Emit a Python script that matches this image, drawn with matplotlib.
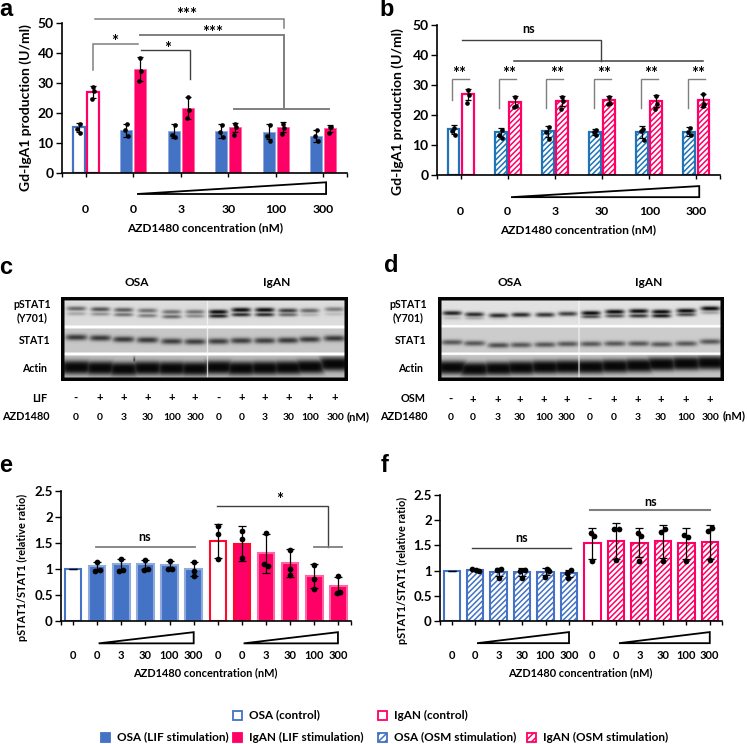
import numpy as np
import matplotlib
matplotlib.use('Agg')
import matplotlib.pyplot as plt
from matplotlib.patches import Rectangle, Polygon

W, H = 747, 744
plt.rcParams['font.family'] = ['Lato', 'DejaVu Sans']
plt.rcParams['font.weight'] = 'bold'
plt.rcParams['hatch.linewidth'] = 1.1

BLUE = '#4472C4'
BLUE2 = '#1F74B8'
PINK = '#FF0066'
RED = '#FF0A28'
GREY = '#7F7F7F'
DARK = '#404040'

conc = ['0', '0', '3', '30', '100', '300']
conc2 = conc + conc

# panel a
a_osa = [15.2, 14.3, 14.0, 14.0, 13.8, 12.3]
a_iga = [27.0, 34.7, 21.7, 15.3, 15.4, 14.9]
a_osa_sd = [1.4, 2.2, 2.2, 2.2, 2.5, 2.1]
a_iga_sd = [2.0, 4.0, 3.8, 1.5, 1.6, 1.2]
a_osa_pts = [[16.2, 14.6, 13.3], [16.5, 14.2, 12.5], [16, 12.6, 12], [16, 13.6, 12],
             [16, 12.2, 10.8], [14.2, 12.2, 10.8]]
a_iga_pts = [[28.8, 27.2, 24.8], [38.5, 34, 30.7], [25.5, 21, 18.2], [16.3, 15.5, 12.7],
             [16.5, 15, 13], [15.5, 15.4, 13.5]]

# panel b
b_osa = [15.2, 14.2, 14.6, 14.3, 14.4, 14.5]
b_iga = [27.0, 24.5, 24.6, 25.0, 24.7, 25.0]
b_osa_sd = [1.4, 1.5, 1.8, 1.0, 1.9, 1.4]
b_iga_sd = [1.8, 1.8, 1.7, 1.3, 2.0, 2.2]
b_osa_pts = [[15.8, 14.8, 13.3], [15, 13.5, 12.2], [16, 14.5, 12], [15, 14.3, 13.4],
             [15.3, 14.8, 11.8], [15.8, 14.2, 13.5]]
b_iga_pts = [[28.5, 26.8, 24.2], [26.2, 23.2, 22.8], [26.2, 24.6, 22.2], [26, 24, 23.6],
             [26.5, 23.8, 22.2], [27, 23.8, 23.2]]

# panel e
e_means = [1.0, 1.06, 1.09, 1.09, 1.07, 1.0, 1.54, 1.49, 1.3, 1.11, 0.86, 0.68]
e_sd = [0.0, 0.08, 0.11, 0.09, 0.09, 0.14, 0.32, 0.33, 0.38, 0.27, 0.23, 0.17]
e_pts = [[], [1.13, 0.98, 0.97], [1.2, 0.99, 0.97], [1.17, 1.0, 0.99], [1.16, 1.0, 1.0],
         [1.13, 0.97, 0.86], [1.82, 1.67, 1.2], [1.73, 1.57, 1.21], [1.7, 1.1, 1.06],
         [1.37, 1.0, 0.88], [1.07, 0.8, 0.61], [0.86, 0.55, 0.54]]
e_dx = [[], [0, 0.1, -0.07], [0, 0.05, -0.1], [0, 0.1, -0.07], [0, 0.1, -0.07], [0, 0, 0],
        [0, 0, 0], [0, 0, 0], [0, -0.07, 0.08], [0, 0, 0], [0, 0, 0], [0, 0.08, -0.08]]

# panel f
f_means = [1.0, 1.01, 0.97, 0.98, 0.98, 0.95, 1.54, 1.59, 1.55, 1.58, 1.54, 1.57]
f_sd = [0.0, 0.02, 0.08, 0.08, 0.07, 0.07, 0.31, 0.35, 0.29, 0.33, 0.3, 0.34]
f_pts = [[], [1.03, 1.01, 1.0], [1.03, 1.02, 0.85], [1.02, 1.0, 0.85], [1.03, 0.99, 0.88],
         [1.02, 0.96, 0.86], [1.74, 1.68, 1.2], [1.83, 1.82, 1.21], [1.75, 1.69, 1.2],
         [1.77, 1.82, 1.2], [1.7, 1.67, 1.2], [1.79, 1.84, 1.21]]
f_dx = [[], [-0.12, 0.03, 0.15], [0.12, -0.07, 0], [0.12, -0.07, 0], [0.05, 0.15, -0.03],
        [0.1, -0.08, -0.04], [-0.07, 0.07, 0], [-0.08, 0.12, 0], [-0.08, 0.08, 0],
        [-0.08, 0.08, 0], [-0.08, 0.08, 0], [-0.08, 0.08, 0]]

# blots: darkness of each band per lane
c_lanes = [228, 300, 370, 442, 515, 585, 655, 724, 795, 865, 930, 1005]
c_up = [.55, .65, .6, .5, .5, .5, 1, 1, 1, .75, .55, .45]
c_low = [.25, .35, .5, .45, .55, .4, .9, .85, .85, .55, .2, .15]
c_up_y = [266, 268, 270, 272, 276, 276, 276, 270, 270, 272, 272, 268]
c_low_y = [281, 282, 284, 287, 290, 288, 288, 284, 284, 284, 284, 282]
c_st = [.75, .75, .75, .75, .72, .72, .72, .72, .72, .75, .75, .75]
c_st_y = [352, 354, 358, 360, 364, 365, 364, 362, 362, 361, 358, 355]
c_ac_y = [442, 444, 447, 444, 445, 446, 442, 445, 444, 443, 440, 432]

d_lanes = [230, 297, 370, 437, 510, 578, 648, 720, 792, 860, 935, 1008]
d_up = [.9, .85, .85, .85, .8, .75, 1, 1, 1, 1, 1, 1]
d_low = [.2, .3, .2, .1, .05, .05, .7, .7, .8, .95, .7, .3]
d_up_y = [278, 282, 285, 283, 283, 280, 278, 274, 272, 274, 271, 264]
d_low_y = [292, 292, 292, 291, 290, 288, 288, 286, 286, 286, 282, 276]
d_st = [.6, .6, .65, .6, .6, .6, .6, .6, .6, .6, .6, .6]
d_st_y = [366, 369, 375, 374, 373, 371, 371, 370, 370, 372, 370, 364]
d_ac_y = [442, 447, 445, 443, 441, 440, 440, 438, 436, 432, 430, 428]

fig = plt.figure(figsize=(W / 100, H / 100), dpi=100)


def axes_px(x0, x1, ytop, ybot):
    ax = fig.add_axes([x0 / W, 1 - ybot / H, (x1 - x0) / W, (ybot - ytop) / H])
    ax.patch.set_alpha(0)
    for s in ['top', 'right']:
        ax.spines[s].set_visible(False)
    for s in ['left', 'bottom']:
        ax.spines[s].set_linewidth(1.2)
    return ax


def dress(ax, labels, yticks, ylabels, ylim, pad, fs, yfs):
    n = len(labels)
    ax.set_xlim(-0.5, n - 0.5)
    ax.set_ylim(*ylim)
    # ticks on the group centres and both axis ends
    ax.set_xticks(list(range(n)))
    ax.set_xticklabels(labels, fontsize=fs)
    ax.tick_params(axis='x', length=3, width=1, pad=pad)
    ax.set_yticks(yticks)
    ax.set_yticklabels(ylabels, fontsize=yfs)
    ax.tick_params(axis='y', length=4, width=1, pad=2)
    ax.set_xticks([-0.5, n - 0.5], minor=True)
    ax.tick_params(axis='x', which='minor', length=3, width=1)


def dots(ax, x, pts, dx, s):
    if len(pts):
        ax.scatter(x + np.array(dx), pts, s=s, color='black', zorder=5, linewidths=0)


def bracket(ax, xs, ys, color=DARK, lw=1):
    ax.plot(xs, ys, color=color, lw=lw, clip_on=False, solid_joinstyle='miter', zorder=6)


def wedge(ax, x0, x1, y0, y1):
    ax.add_patch(Polygon([(x0, y0), (x1, y0), (x1, y1)], closed=True, fill=False, ec='black',
                         lw=1.3, clip_on=False, joinstyle='miter'))


def group_panel(ax, osa, iga, osa_sd, iga_sd, osa_pts, iga_pts, hatched):
    x = np.arange(6)
    off, bw = 0.15, 0.25
    for i in x:
        if i == 0:
            ax.bar(i - off, osa[i], bw, fc='white', ec=BLUE2 if hatched else BLUE, lw=1.6)
            ax.bar(i + off, iga[i], bw, fc='white', ec=PINK, lw=1.6)
        elif hatched:
            ax.bar(i - off, osa[i], bw, fc='white', ec=BLUE2, lw=1.6, hatch='//////')
            ax.bar(i + off, iga[i], bw, fc='white', ec=PINK, lw=1.6, hatch='//////')
        else:
            ax.bar(i - off, osa[i], bw, fc=BLUE, ec='#8FAADC', lw=0.6)
            ax.bar(i + off, iga[i], bw, fc=PINK, ec='#FF66A3', lw=0.6)
    ax.errorbar(x - off, osa, yerr=osa_sd, fmt='none', ecolor='black', elinewidth=0.9, capsize=2.4,
                capthick=0.9, zorder=4)
    ax.errorbar(x + off, iga, yerr=iga_sd, fmt='none', ecolor='black', elinewidth=0.9, capsize=2.4,
                capthick=0.9, zorder=4)
    for i in x:
        dots(ax, i - off, osa_pts[i], [0.02, -0.03, 0.03], 11)
        dots(ax, i + off, iga_pts[i], [0, 0.02, -0.02], 11)


def single_panel(ax, means, sd, pts, dx, fills, edges, hatches, bw):
    x = np.arange(12)
    for i in x:
        ax.bar(i, means[i], bw, fc=fills[i], ec=edges[i], lw=1.5, hatch=hatches[i])
    ax.errorbar(x, means, yerr=sd, fmt='none', ecolor='black', elinewidth=0.9, capsize=3,
                capthick=0.9, zorder=4)
    for i in x:
        dots(ax, i, pts[i], dx[i], 17)


def blot(x0, x1, ytop, ybot, zx0, zx1, zy0, zy1, rows, vline, lanes, up, low, up_y, low_y, st, st_y, ac_y, ac_h, st_h, speck=None):
    # everything below is laid out in the 3x zoom coordinates of the crop
    ax = fig.add_axes([x0 / W, 1 - ybot / H, (x1 - x0) / W, (ybot - ytop) / H])
    ax.axis('off')
    xs = np.linspace(zx0, zx1, (x1 - x0) * 2)
    ys = np.linspace(zy0, zy1, (ybot - ytop) * 2)
    X, Y = np.meshgrid(xs, ys)
    img = np.ones_like(X)
    for (r0, r1, bg) in rows:
        img[(Y >= r0) & (Y < r1)] = bg
    r1m = (Y >= rows[0][0]) & (Y < rows[0][1])
    r2m = (Y >= rows[1][0]) & (Y < rows[1][1])
    r3m = (Y >= rows[2][0]) & (Y < rows[2][1])
    dark = np.zeros_like(X)
    for i, lx in enumerate(lanes):
        px = np.exp(-((X - lx) / 29.0) ** 4)
        d1 = up[i] * px * np.exp(-((Y - up_y[i]) / 7.0) ** 2)
        d2 = low[i] * px * np.exp(-((Y - low_y[i]) / 6.0) ** 2)
        d3 = st[i] * np.exp(-((X - lx) / 33.0) ** 4) * np.exp(-((Y - st_y[i]) / st_h) ** 2)
        d4 = np.exp(-((X - lx) / 48.0) ** 6) * np.exp(-np.abs((Y - ac_y[i]) / ac_h) ** 3)
        dark = np.maximum(dark, np.where(r1m, np.maximum(d1, d2), 0))
        dark = np.maximum(dark, np.where(r2m, d3, 0))
        dark = np.maximum(dark, np.where(r3m, d4, 0))
    if speck:
        dark = np.maximum(dark, 0.8 * np.exp(-((X - speck[0]) / 3.0) ** 2 - ((Y - speck[1]) / 9.0) ** 2))
    img = img * (1 - 0.96 * dark)
    inner = (Y >= rows[0][0]) & (Y < rows[2][1]) & (np.abs(X - vline) < 1.5)
    img[inner] = 0.97
    # black frame
    m = 10
    img[(X < zx0 + m) | (X > zx1 - m) | (Y < zy0 + m) | (Y > zy1 - m)] = 0.02
    ax.imshow(img, cmap='gray', vmin=0, vmax=1, aspect='auto', interpolation='bilinear')


# overlay for the panel letters, blot captions and the legend
ov = fig.add_axes([0, 0, 1, 1], zorder=10)
ov.set_xlim(0, W)
ov.set_ylim(H, 0)
ov.axis('off')


def t(x, y, s, fs=8.3, ha='center', **kw):
    ov.text(x, y, s, fontsize=fs, ha=ha, va='center', **kw)


# ---------------------------------------------------------------- a
ax = axes_px(62, 347, 23, 173)
group_panel(ax, a_osa, a_iga, a_osa_sd, a_iga_sd, a_osa_pts, a_iga_pts, False)
dress(ax, conc, range(0, 51, 10), [str(v) for v in range(0, 51, 10)], (0, 50), 19, 8.8, 10)
wedge(ax, 1.08, 5.06, -7.0, -3.1)
bracket(ax, [0.2, 4.17, 4.17], [51.2, 51.2, 48.4], GREY, 1.1)
bracket(ax, [1.14, 4.17, 4.17], [46, 46, 21.2], GREY, 1.4)
bracket(ax, [3.12, 5.13], [21.2, 21.2], GREY, 1.4)
bracket(ax, [0.15, 0.15, 1.1], [34.3, 42.9, 42.9], GREY, 1.1)
bracket(ax, [1.16, 2.2, 2.2], [40.9, 40.9, 31.2], DARK, 1)
ax.text(2.13, 52.6, '***', ha='center', va='center', fontsize=12, clip_on=False)
ax.text(2.67, 46.8, '***', ha='center', va='center', fontsize=12, clip_on=False)
ax.text(0.61, 43.6, '*', ha='center', va='center', fontsize=12, clip_on=False)
ax.text(1.72, 41.4, '*', ha='center', va='center', fontsize=12, clip_on=False)

# ---------------------------------------------------------------- b
ax = axes_px(437, 720, 25.3, 175)
group_panel(ax, b_osa, b_iga, b_osa_sd, b_iga_sd, b_osa_pts, b_iga_pts, True)
dress(ax, conc, range(0, 51, 10), [str(v) for v in range(0, 51, 10)], (0, 50), 19, 8.8, 10)
wedge(ax, 1.07, 5.06, -7.4, -3.7)
bracket(ax, [0.02, 2.97, 2.97], [45.2, 45.2, 38.2], DARK, 1)
bracket(ax, [1.14, 5.15], [38.2, 38.2], DARK, 1.1)
ax.text(1.44, 48.6, 'ns', ha='center', va='center', fontsize=9)
for i in range(6):
    low_end = 25.2 if i == 0 else 22.5
    bracket(ax, [i - 0.18, i - 0.18, i + 0.18], [low_end, 32.2, 32.2], GREY, 1)
    ax.text(i + 0.04 if i else -0.02, 33.6, '**', ha='center', va='center', fontsize=12)

# ---------------------------------------------------------------- e
ax = axes_px(61, 350.5, 491, 621)
e_fill = ['white'] + [BLUE] * 5 + ['white'] + [PINK] * 5
e_edge = [BLUE] + ['#8FAADC'] * 5 + [RED, RED] + ['#FF66A3'] * 4
single_panel(ax, e_means, e_sd, e_pts, e_dx, e_fill, e_edge, [None] * 12, 0.68)
dress(ax, conc2, [0, 0.5, 1, 1.5, 2, 2.5], ['0', '0.5', '1', '1.5', '2', '2.5'], (0, 2.5), 18, 8, 9.5)
wedge(ax, 1.06, 5.0, -0.43, -0.215)
wedge(ax, 7.07, 10.98, -0.43, -0.215)
bracket(ax, [5.98, 10.55, 10.55], [2.22, 2.22, 1.42], DARK, 1)
bracket(ax, [9.97, 11.16], [1.42, 1.42], GREY, 1.3)
bracket(ax, [0.94, 5.06], [1.43, 1.43], GREY, 1.3)
ax.text(8.55, 2.33, '*', ha='center', va='center', fontsize=12)
ax.text(2.97, 1.62, 'ns', ha='center', va='center', fontsize=9)

# ---------------------------------------------------------------- f
ax = axes_px(440, 721.5, 495, 621)
f_fill = ['white'] * 12
f_edge = [BLUE] * 6 + [PINK] * 6
f_hatch = [None] + ['//////'] * 5 + [None] + ['//////'] * 5
single_panel(ax, f_means, f_sd, f_pts, f_dx, f_fill, f_edge, f_hatch, 0.7)
dress(ax, conc2, [0, 0.5, 1, 1.5, 2, 2.5], ['0', '0.5', '1', '1.5', '2', '2.5'], (0, 2.5), 18, 8, 9.5)
wedge(ax, 1.08, 5.0, -0.44, -0.22)
wedge(ax, 7.13, 11.0, -0.44, -0.22)
bracket(ax, [0.87, 5.09], [1.44, 1.44], DARK, 1)
bracket(ax, [5.89, 11.0], [2.21, 2.21], GREY, 1.5)
ax.text(2.96, 1.64, 'ns', ha='center', va='center', fontsize=9)
ax.text(8.49, 2.37, 'ns', ha='center', va='center', fontsize=9)

# ---------------------------------------------------------------- c, d
c_rows = [(243, 316, 0.86), (325, 398, 0.78), (406, 472, 0.74)]
blot(61, 348, 297, 381, 182, 1045, 232, 482, c_rows, 622, c_lanes, c_up, c_low, c_up_y, c_low_y,
     c_st, c_st_y, c_ac_y, 21, 9, speck=(402, 420))
d_rows = [(240, 313, 0.88), (322, 396, 0.80), (405, 472, 0.76)]
blot(438, 724, 297, 381, 188, 1048, 230, 482, d_rows, 612, d_lanes, d_up, d_low, d_up_y, d_low_y,
     d_st, d_st_y, d_ac_y, 21, 8)

t(137, 282, 'OSA', 8.6)
t(277, 282, 'IgAN', 8.6)
t(510, 282, 'OSA', 8.6)
t(649, 282, 'IgAN', 8.6)
for lab_x in [32, 408]:
    t(lab_x, 304, 'pSTAT1', 7.6)
    t(lab_x, 318, '(Y701)', 7.6)
    t(lab_x + 3, 341, 'STAT1', 7.6)
    t(lab_x + 3, 368, 'Actin', 7.6)

lif_sign = ['-', '+', '+', '+', '+', '+', '-', '+', '+', '+', '+', '+']
for i in range(12):
    t(c_lanes[i] / 3, 398, lif_sign[i], 8.2)
    t(c_lanes[i] / 3, 417, conc2[i], 7.4)
    t(375 + d_lanes[i] / 3 - 1, 399, lif_sign[i], 8.2)
    t(375 + d_lanes[i] / 3 - 1, 417, conc2[i], 7.4)
t(47, 398, 'LIF', 7.8, ha='right')
t(50, 417, 'AZD1480', 7.8, ha='right')
t(358, 417, '(nM)', 8)
t(426, 399, 'OSM', 7.8, ha='right')
t(428, 417, 'AZD1480', 7.8, ha='right')
t(734, 416, '(nM)', 8)

# shared labels
t(205, 228, 'AZD1480 concentration (nM)', 8.6)
t(578, 230, 'AZD1480 concentration (nM)', 8.6)
t(205, 673, 'AZD1480 concentration (nM)', 7.9)
t(580, 673, 'AZD1480 concentration (nM)', 7.9)
t(26, 108, 'Gd-IgA1 production (U/ml)', 10, rotation=90)
t(398, 112, 'Gd-IgA1 production (U/ml)', 10, rotation=90)
t(22, 567, 'pSTAT1/STAT1 (relative ratio)', 7.8, rotation=90)
t(402, 570, 'pSTAT1/STAT1 (relative ratio)', 7.8, rotation=90)

# panel letters
for x, y, s in [(6, 10, 'a'), (387, 10, 'b'), (6, 267, 'c'), (391, 265, 'd'), (6, 466, 'e'), (385, 465, 'f')]:
    ov.text(x, y, s, fontsize=17, fontweight='bold', ha='center', va='center', family='Liberation Sans')

# legend
legend_items = [
    (232, 715, 'OSA (control)', 'white', BLUE, None),
    (377, 715, 'IgAN (control)', 'white', PINK, None),
    (100, 737, 'OSA (LIF stimulation)', BLUE, BLUE, None),
    (232, 737, 'IgAN (LIF stimulation)', PINK, PINK, None),
    (377, 737, 'OSA (OSM stimulation)', 'white', BLUE, '/////'),
    (526, 737, 'IgAN (OSM stimulation)', 'white', PINK, '/////'),
]
for x, y, label, fc, ec, hatch in legend_items:
    ov.add_patch(Rectangle((x + 0.5, y - 4.5), 9, 9, fc=fc, ec=ec, lw=1.3, hatch=hatch))
    t(x + 17, y, label, 8.5, ha='left')

fig.savefig('out.png', dpi=100)
